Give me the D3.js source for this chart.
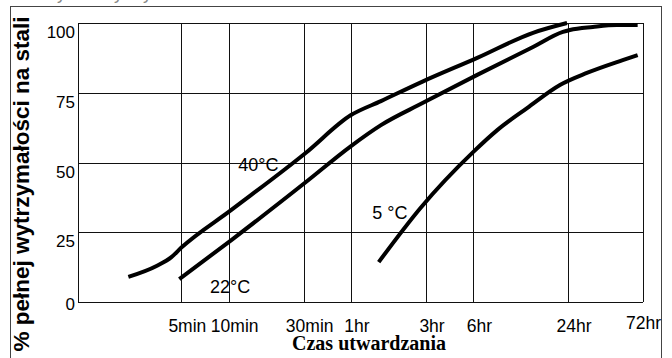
<!DOCTYPE html>
<html>
<head>
<meta charset="utf-8">
<script src="https://cdn.jsdelivr.net/npm/d3@7"></script>
<style>
  body { margin: 0; background: #fff; }
  svg { display: block; }
</style>
</head>
<body>
<div id="app"></div>
<script>
// time in minutes, strength in %
let tickMinutes = [5, 10, 30, 60, 180, 360, 1440, 4320];
let tickLabels = ['5min', '10min', '30min', '1hr', '3hr', '6hr', '24hr', '72hr'];
let pctTicks = [0, 25, 50, 75, 100];

let curve40 = [[2.3, 9], [3.5, 13], [4.3, 16], [5, 19.5], [10.4, 33], [31, 53.5],
               [60, 67], [93, 72], [171, 79], [381, 87.5], [863, 96.5], [1420, 100]];
let curve22 = [[4.85, 8.2], [10.4, 22.2], [31, 43], [60, 55.9], [93, 63.4], [171, 71.3],
               [381, 81.4], [863, 91.4], [1337, 96.8], [1480, 97.5], [2072, 98.6], [2941, 99.3], [3995, 99.3]];
let curve5 = [[90, 14.3], [166, 33.7], [360, 53.8], [511, 61.6], [791, 69.5],
              [1280, 77.8], [1898, 82.1], [3209, 86.7], [3995, 88.5]];

let seriesNames = ['40°C', '22°C', '5 °C'];
let seriesData = [curve40, curve22, curve5];
// where each name is written, in data units (minutes, %)
let labelAnchors = [[11.5, 47], [7.6, 3.2], [82, 29.7]];

let svgWidth = 672;
let svgHeight = 358;

let margin = {top: 23, left: 78, right: 29, bottom: 56},
    width = svgWidth - margin.left - margin.right,
    height = svgHeight - margin.top - margin.bottom;

let sans = 'Arial, "Liberation Sans", sans-serif';
let serif = '"Times New Roman", "Liberation Serif", serif';

let svg = d3.select('#app').append('svg')
    .attr('width', svgWidth)
    .attr('height', svgHeight)
    .style('font-family', sans);

        //title cut off at the top of the picture
svg.append('text')
    .attr('x', 30)
    .attr('y', -1)
    .attr('font-size', 18)
    .attr('fill', '#888')
    .text('Przyrost wytrzymałości w czasie utwardzania');

        //outer frame
svg.append('rect')
    .attr('x', 10.5).attr('y', 6.5)
    .attr('width', 651).attr('height', 400)
    .attr('fill', 'none')
    .attr('stroke', '#444')
    .attr('stroke-width', 1);

let x = d3.scaleLog()
    .domain([1.1, 4320])
    .range([margin.left, margin.left + width]);

let y = d3.scaleLinear()
    .domain([0, 100])
    .range([margin.top + height, margin.top]);

let crisp = v => Math.round(v) + 0.5;

        //grid
let grid = svg.append('g').attr('stroke', '#111').attr('stroke-width', 1);

grid.selectAll('.vline')
    .data(tickMinutes)
    .enter().append('line')
        .attr('x1', d => crisp(x(d))).attr('x2', d => crisp(x(d)))
        .attr('y1', y(100)).attr('y2', y(0));

grid.selectAll('.hline')
    .data(pctTicks)
    .enter().append('line')
        .attr('x1', margin.left).attr('x2', margin.left + width)
        .attr('y1', d => crisp(y(d))).attr('y2', d => crisp(y(d)));

grid.append('line')
    .attr('x1', crisp(margin.left)).attr('x2', crisp(margin.left))
    .attr('y1', y(100)).attr('y2', y(0));

        //x tick labels
let last = tickMinutes.length - 1;
svg.append('g')
    .selectAll('text')
    .data(tickMinutes)
    .enter().append('text')
        .attr('x', (d, i) => i === last ? x(d) + 18 : x(d) + 6)
        .attr('y', (d, i) => i === last ? y(0) + 27 : y(0) + 30)
        .attr('text-anchor', (d, i) => i === last ? 'end' : 'middle')
        .attr('font-size', 17.5)
        .text((d, i) => tickLabels[i]);

        //y tick labels
svg.append('g')
    .selectAll('text')
    .data(pctTicks)
    .enter().append('text')
        .attr('x', margin.left - 3)
        .attr('y', d => d === 0 ? y(d) + 8 : y(d) + 15)
        .attr('text-anchor', 'end')
        .attr('font-size', 17)
        .text(d => d);

        //axis titles
svg.append('text')
    .attr('transform', 'translate(29,184) rotate(-90)')
    .attr('text-anchor', 'middle')
    .attr('font-size', 22.5)
    .attr('font-weight', 'bold')
    .text('% pełnej wytrzymałości na stali');

svg.append('text')
    .attr('x', 369)
    .attr('y', 350)
    .attr('text-anchor', 'middle')
    .style('font-family', serif)
    .attr('font-size', 20)
    .attr('font-weight', 'bold')
    .text('Czas utwardzania');

        //curves
let line = d3.line()
    .x(d => x(d[0]))
    .y(d => y(d[1]))
    .curve(d3.curveMonotoneX);

svg.append('g')
    .selectAll('path')
    .data(seriesData)
    .enter().append('path')
        .attr('d', line)
        .attr('fill', 'none')
        .attr('stroke', '#000')
        .attr('stroke-width', 4)
        .attr('stroke-linejoin', 'round');

svg.append('g')
    .selectAll('text')
    .data(labelAnchors)
    .enter().append('text')
        .attr('x', d => x(d[0]))
        .attr('y', d => y(d[1]))
        .attr('font-size', 18)
        .text((d, i) => seriesNames[i]);
</script>
</body>
</html>
